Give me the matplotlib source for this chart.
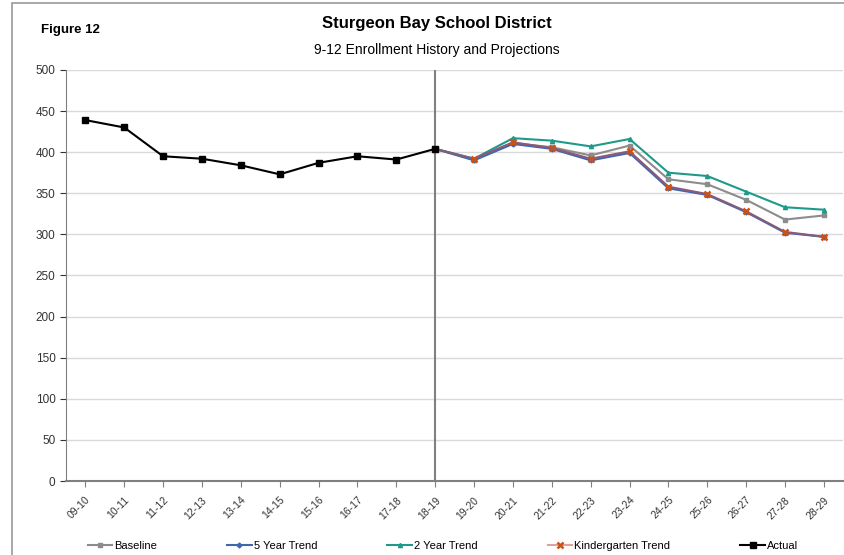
import matplotlib.pyplot as plt
from matplotlib.patches import Rectangle

plt.rcParams['font.family'] = ['Liberation Sans', 'DejaVu Sans']

years = ["09-10", "10-11", "11-12", "12-13", "13-14", "14-15", "15-16", "16-17",
         "17-18", "18-19", "19-20", "20-21", "21-22", "22-23", "23-24", "24-25",
         "25-26", "26-27", "27-28", "28-29"]

actual = [439, 430, 395, 392, 384, 373, 387, 395, 391, 404]

# projections start from the last actual year (18-19)
proj_years = years[9:]
baseline = [404, 391, 411, 406, 396, 408, 367, 361, 342, 318, 323]
five_year = [404, 390, 410, 404, 390, 399, 356, 348, 327, 302, 297]
two_year = [404, 392, 417, 414, 407, 416, 375, 371, 352, 333, 330]
kinder = [404, 392, 412, 405, 392, 401, 358, 349, 328, 303, 297]

x_all = list(range(len(years)))
x_proj = x_all[9:]

fig = plt.figure(figsize=(8.45, 5.55), dpi=100)
ax = fig.add_axes([0.078, 0.1333, 0.92, 0.7407])

fig.patches.append(Rectangle((0.014, -0.01), 1.0, 1.004, transform=fig.transFigure,
                             fill=False, edgecolor="#9a9a9a", linewidth=1.2))

ax.plot(x_proj, baseline, color="#8c8c8c", marker="s", markersize=3.5, lw=1.5,
        label="Baseline")
ax.plot(x_proj, five_year, color="#3f67b0", marker="D", markersize=2.5, lw=1.5,
        label="5 Year Trend")
ax.plot(x_proj, two_year, color="#1f9a8a", marker="^", markersize=3, lw=1.5,
        label="2 Year Trend")
ax.plot(x_proj, kinder, color="#8a5a7a", marker="x", markersize=5, mew=1.8,
        mec="#c8521a", lw=1.5, label="Kindergarten Trend")
ax.plot(x_all[:10], actual, color="black", marker="s", markersize=5, lw=1.5,
        label="Actual", zorder=5)

ax.axvline(9, color="#808080", lw=1.5, zorder=1)

ax.set_xlim(-0.5, len(years) - 0.5)
ax.set_ylim(0, 500)
ax.set_yticks(range(0, 501, 50))
ax.set_xticks(x_all)
ax.set_xticklabels(years, rotation=45, ha="right", rotation_mode="anchor",
                   fontsize=7.5, color="#333333")
ax.tick_params(axis="y", labelsize=8.5, colors="#333333", length=4)
ax.tick_params(axis="x", length=4, color="#808080", pad=6)
ax.grid(axis="y", color="#d9d9d9", lw=1)
ax.set_axisbelow(True)
for s in ["top", "right"]:
    ax.spines[s].set_visible(False)
ax.spines["left"].set_color("#808080")
ax.spines["bottom"].set_color("#808080")
ax.spines["bottom"].set_linewidth(1.5)

# legend line for kindergarten drawn lighter like the original
handles, labels = ax.get_legend_handles_labels()
leg = ax.legend(handles, labels, loc="center", bbox_to_anchor=(0.485, -0.158),
                ncol=5, frameon=False, fontsize=8, handlelength=2.2,
                columnspacing=6.3, handletextpad=0.2)
leg.get_lines()[3].set_color("#e0a0a0")

fig.text(0.048, 0.94, "Figure 12", fontsize=9.5, fontweight="bold")
fig.text(0.517, 0.95, "Sturgeon Bay School District", fontsize=12,
         fontweight="bold", ha="center")
fig.text(0.517, 0.902, "9-12 Enrollment History and Projections", fontsize=10,
         ha="center")

fig.savefig("out.png", dpi=100)
